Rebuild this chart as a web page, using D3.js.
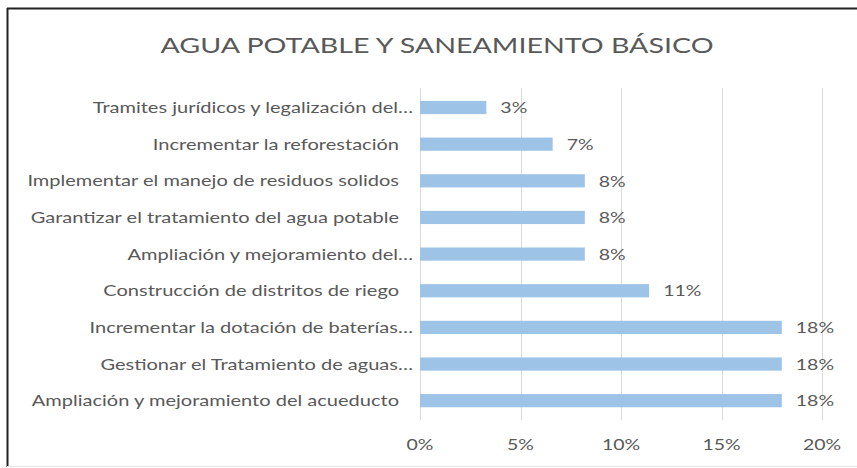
<!DOCTYPE html>
<html><head><meta charset="utf-8">
<script src="https://cdn.jsdelivr.net/npm/d3@7"></script>
<style>
html,body{margin:0;padding:0;background:#fff;}
text{font-family:Lato, "Open Sans", sans-serif;}
</style></head>
<body><svg id="c" width="857" height="468"></svg>
<script>
const title = "AGUA POTABLE Y SANEAMIENTO BÁSICO";
const categories = [
  "Tramites jurídicos y legalización del…",
  "Incrementar la reforestación",
  "Implementar el manejo de residuos solidos",
  "Garantizar el tratamiento del agua potable",
  "Ampliación y mejoramiento del…",
  "Construcción de distritos de riego",
  "Incrementar la dotación de baterías…",
  "Gestionar el Tratamiento de aguas…",
  "Ampliación y mejoramiento del acueducto"
];
const values = [3.3, 6.6, 8.2, 8.2, 8.2, 11.4, 18, 18, 18];
const dataLabels = ["3%", "7%", "8%", "8%", "8%", "11%", "18%", "18%", "18%"];
const ticks = [0, 5, 10, 15, 20];
const tickLabels = ["0%", "5%", "10%", "15%", "20%"];

const SX = 1.3; // horizontal stretch of the reference's text
const svg = d3.select("#c");
const W = 857, H = 468;
svg.append("rect").attr("width", W).attr("height", H).attr("fill", "#fff");
// frame
svg.append("line").attr("x1", 7).attr("x2", W).attr("y1", 8.5).attr("y2", 8.5).attr("stroke", "#222").attr("stroke-width", 2);
svg.append("line").attr("x1", 7.5).attr("x2", 7.5).attr("y1", 8).attr("y2", 467).attr("stroke", "#222").attr("stroke-width", 2);
svg.append("line").attr("x1", 7).attr("x2", W).attr("y1", 466.5).attr("y2", 466.5).attr("stroke", "#e4e4e4").attr("stroke-width", 1);

const x = d3.scaleLinear().domain([0, 20]).range([420, 822]);
const y = d3.scaleBand().domain(categories).range([89.2, 419]).paddingInner(0.64).paddingOuter(0.32);

// gridlines
svg.append("g").selectAll("line").data(ticks).join("line")
  .attr("x1", d => Math.round(x(d)) + 0.5).attr("x2", d => Math.round(x(d)) + 0.5)
  .attr("y1", 88).attr("y2", 420)
  .attr("stroke", "#d9d9d9").attr("stroke-width", 1);

function stretched(sel, fx, fy) {
  return sel.attr("transform", (d, i) => `translate(${fx(d, i)},${fy(d, i)}) scale(${SX},1)`);
}

// tick labels
stretched(svg.append("g").selectAll("text").data(ticks).join("text"), d => x(d), () => 445)
  .attr("dy", "0.35em")
  .attr("text-anchor", "middle").attr("fill", "#595959").attr("font-size", 15)
  .text((d, i) => tickLabels[i]);

// bars
svg.append("g").selectAll("rect").data(values).join("rect")
  .attr("x", x(0)).attr("y", (d, i) => y(categories[i]))
  .attr("width", d => x(d) - x(0)).attr("height", y.bandwidth())
  .attr("fill", "#9dc3e6");

// data labels
stretched(svg.append("g").selectAll("text").data(values).join("text"),
    d => x(d) + 14, (d, i) => y(categories[i]) + y.bandwidth() / 2)
  .attr("dy", "0.38em")
  .attr("fill", "#595959").attr("font-size", 15)
  .text((d, i) => dataLabels[i]);

// category labels
stretched(svg.append("g").selectAll("text").data(categories).join("text"),
    d => d.endsWith("…") ? 413 : 399, d => y(d) + y.bandwidth() / 2)
  .attr("dy", "0.36em")
  .attr("text-anchor", "end").attr("fill", "#595959").attr("font-size", 15.4)
  .text(d => d);

// title
svg.append("text").attr("transform", `translate(437,45) scale(${SX},1)`).attr("dy", "0.36em")
  .attr("text-anchor", "middle").attr("fill", "#595959").attr("font-size", 22)
  .text(title);
</script></body></html>
